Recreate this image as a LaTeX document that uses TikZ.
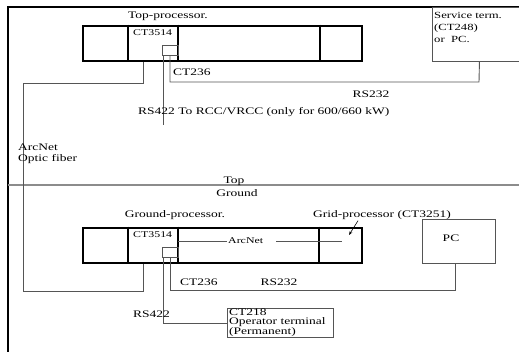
\documentclass[tikz,border=0pt]{standalone}
\usepackage{fontspec}
\setmainfont{Liberation Serif}[FakeStretch=1.35]
\usepackage{tikz}
\usetikzlibrary{arrows.meta, positioning}
\definecolor{WireGray}{RGB}{85,85,85}
\definecolor{RuleGray}{RGB}{140,140,140}
\tikzset{
  >={Stealth[length=4pt,width=3pt]},
  % processor boxes
  proc/.style={draw, line width=2.6pt, minimum width=279pt, minimum height=35pt, inner sep=0pt},
  divider/.style={line width=2.2pt},
  port/.style={draw=WireGray, line width=0.9pt, minimum width=16pt, minimum height=10pt, inner sep=0pt},
  termbox/.style={draw=WireGray, line width=0.9pt, inner sep=0pt},
  % connections
  wire/.style={WireGray, line width=0.9pt},
  lbl/.style={inner sep=0pt, font=\fontsize{10}{10}\selectfont},
  small lbl/.style={inner sep=0pt, font=\fontsize{8.8}{9}\selectfont}
}

\begin{document}
\begin{tikzpicture}[x=1pt, y=-1pt]
    \useasboundingbox (0,0) rectangle (519,351);
    % frame
    \draw[line width=1.3pt] (8,380) |- (540,7);

    % top side
    \node[proc] (topP) at (222.5,43.5) {};
    \foreach \dx in {46,96,238} {
      \draw[divider] ([xshift=\dx pt]topP.north west) -- ([xshift=\dx pt]topP.south west);
    }
    \node[lbl] (topLbl) at (168,16) {Top-processor.};
    \node[small lbl, anchor=north west] (cpuT) at (133,29) {CT3514};
    \node[port] (portT) at (170,50) {};
    \node[termbox, minimum width=94pt, minimum height=54pt, anchor=north west] (svc) at (432,7) {};
    \node[anchor=north west, align=left, inner sep=0pt, font=\fontsize{9.4}{12}\selectfont,
          below right=5pt and 2pt of svc.north west] (svcTxt) {Service term.\\(CT248)\\or\ \ PC.};

    \coordinate (busT) at (479,82);
    \draw[wire] (portT.south) |- (busT) -- (svc.south);
    \node[lbl, anchor=west] (ctT) at (173,72) {CT236};
    \node[lbl] (rsT) at (371,94) {RS232};

    \coordinate (rs4T) at (163,125);
    \draw[wire] (portT.south west -| rs4T) -- (rs4T);
    \node[lbl, anchor=west] (rs4Lbl) at (138,112) {RS422 To RCC/VRCC (only for 600/660 kW)};

    % top / ground border
    \coordinate (sepL) at (8,185);
    \coordinate (sepR) at (519,185);
    \draw[RuleGray, line width=1.2pt] (sepL) -- (sepR);
    \node[lbl] (topTxt) at (234,181) {Top};
    \node[lbl] (gndTxt) at (237,193) {Ground};

    % ground side
    \node[proc] (gndP) at (222.5,245.5) {};
    \foreach \dx in {46,96,237} {
      \draw[divider] ([xshift=\dx pt]gndP.north west) -- ([xshift=\dx pt]gndP.south west);
    }
    \node[lbl] (gndLbl) at (175,215) {Ground-processor.};
    \node[small lbl, anchor=north west] (cpuG) at (133,231) {CT3514};
    \node[port] (portG) at (170,252) {};
    \node[small lbl, anchor=west] (arcIn) at (228,241) {ArcNet};
    \coordinate (arcInL) at (178,241);
    \coordinate (arcInR) at (342,241);
    \draw[wire] (arcInL) -- ([xshift=-1pt]arcIn.west);
    \draw[wire] ([xshift=13pt]arcIn.east) -- (arcInR);

    % optic fiber loop
    \coordinate (arcA) at (23,83);
    \coordinate (arcB) at (23,291);
    \draw[wire] ([xshift=62pt]topP.south west) |- (arcA) -- (arcB) -| ([xshift=62pt]gndP.south west);
    \node[lbl, anchor=west, align=left, font=\fontsize{10}{11.5}\selectfont] (arcLbl) at (18,154) {ArcNet\\Optic fiber};

    \node[lbl, anchor=west] (gridLbl) at (313,215) {Grid-processor (CT3251)};
    \coordinate (gridTip) at (349,235);
    \draw[->, line width=0.6pt] ([xshift=45pt, yshift=-1pt]gridLbl.south west) -- (gridTip);

    \node[termbox, minimum width=73pt, minimum height=44pt] (pc) at (458.5,241) {};
    \node[lbl] (pcTxt) at (451,238) {PC};

    \coordinate (busG) at (455,290);
    \draw[wire] (portG.south) |- (busG) -- (busG |- pc.south);
    \node[lbl, anchor=west] (ctG) at (180,282) {CT236};
    \node[lbl] (rsG) at (279,282) {RS232};

    \node[termbox, minimum width=106pt, minimum height=29pt, anchor=north west] (opT) at (227,308) {};
    \node[inner sep=0pt, align=left, font=\fontsize{10}{8.8}\selectfont,
          below right=1pt and 2pt of opT.north west] (opTxt) {CT218\\Operator terminal\\(Permanent)};
    \draw[wire] (portG.south west -| rs4T) |- (opT.west);
    \node[lbl, anchor=west] (rs4G) at (133,314) {RS422};
\end{tikzpicture}
\end{document}
